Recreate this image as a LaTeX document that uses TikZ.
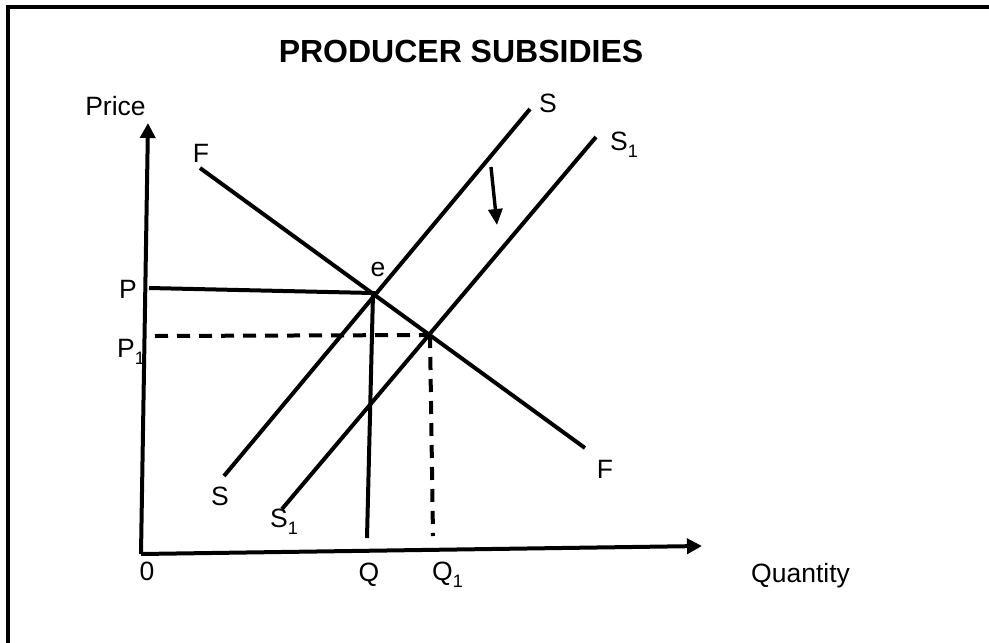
\documentclass[tikz,border=0pt]{standalone}
\usepackage{fontspec}
\setmainfont{Liberation Sans}
\usetikzlibrary{arrows.meta}
\newcommand{\lowone}{\raisebox{-0.3em}{\fontsize{18}{20}\selectfont 1}}
\tikzset{
  curve/.style={line width=4pt},
  axis/.style={line width=4pt,-{Triangle[length=15pt,width=15pt]}},
  guide/.style={line width=4pt,dash pattern=on 13pt off 9pt},
  lbl/.style={inner sep=0pt,anchor=base,font=\fontsize{26.5}{30}\selectfont},
  lblw/.style={lbl,anchor=base west}
}
\begin{document}
\begin{tikzpicture}[x=1pt,y=-1pt]
        \useasboundingbox (0,0) rectangle (989,643);
        % frame
        \draw[line width=4pt] (7.5,643) -- (7.5,7) -- (989,7);

        \node[inner sep=0pt,anchor=base,font=\fontsize{32}{38}\selectfont\bfseries]
            (title) at (461,62) {PRODUCER SUBSIDIES};

        % axes
        \coordinate (o) at (141,554);
        \coordinate (ytop) at (148,123);
        \coordinate (xend) at (702,546);
        \draw[axis] (o) -- (ytop);
        \draw[axis] (o) -- (xend);
        \node[lbl] (price) at (115.5,115) {Price};
        \node[lbl] (zero) at (147,580) {0};
        \node[lblw] (qty) at (751,582) {Quantity};

        % demand F
        \coordinate (f1) at (200,168);
        \coordinate (f2) at (585,448);
        \draw[curve] (f1) -- (f2);
        \node[lbl] (flbl1) at (201,162) {F};
        \node[lbl] (flbl2) at (605,478) {F};

        % supply S
        \coordinate (s1) at (224,476);
        \coordinate (s2) at (530,109);
        \draw[curve] (s1) -- (s2);
        \node[lbl] (slbl2) at (548,112) {S};
        \node[lblw] (slbl1) at (211,505) {S};

        % supply S1
        \coordinate (t1) at (282,509);
        \coordinate (t2) at (596,137);
        \draw[curve] (t1) -- (t2);
        \node[lblw] (tlbl2) at (610,150) {S\lowone};
        \node[lblw] (tlbl1) at (270,527) {S\lowone};

        % shift
        \coordinate (a1) at (491,167);
        \coordinate (a2) at (497,225);
        \draw[line width=3.4pt,-{Triangle[length=16pt,width=14pt]}] (a1) -- (a2);

        % old equilibrium
        \coordinate (e) at (373,293);
        \coordinate (p) at (149,288);
        \coordinate (q) at (367,538);
        \draw[curve] (p) -- (e) -- (q);
        \node[lbl] (elbl) at (378,276) {e};
        \node[lblw] (plbl) at (119,298) {P};
        \node[lbl] (qlbl) at (369,581) {Q};

        % new equilibrium
        \coordinate (e1) at (430,335);
        \coordinate (p1) at (155,336);
        \coordinate (q1) at (433,536);
        \draw[guide] (p1) -- (e1);
        \draw[guide] (e1) -- (q1);
        \node[lblw] (p1lbl) at (117,357) {P\lowone};
        \node[lblw] (q1lbl) at (432,580) {Q\lowone};
\end{tikzpicture}
\end{document}
